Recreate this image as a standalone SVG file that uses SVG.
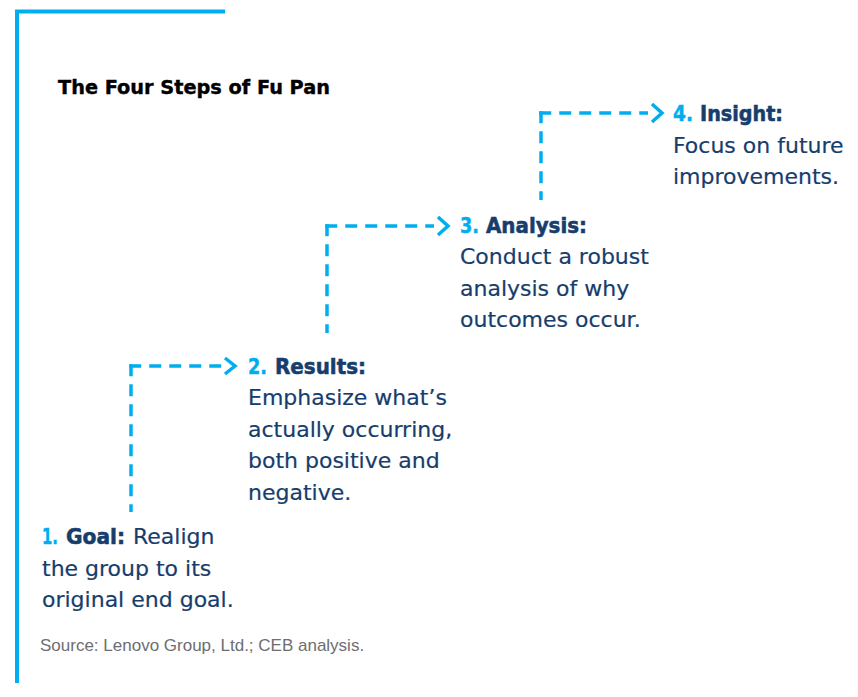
<svg xmlns="http://www.w3.org/2000/svg" width="858" height="697" viewBox="0 0 858 697">
<style>
.frame{fill:none;stroke:#00AEEF;stroke-width:4}
.dash{fill:none;stroke:#00AEEF;stroke-width:3.5;stroke-dasharray:12 8}
.chev{fill:none;stroke:#00AEEF;stroke-width:3.5;stroke-linejoin:miter}
.title{font-family:"DejaVu Sans",sans-serif;font-weight:bold;font-size:20px;fill:#000;stroke:#000;stroke-width:0.4}
.hd{font-family:"DejaVu Sans",sans-serif;font-weight:bold;font-size:22px;fill:#173D6C;stroke:#173D6C;stroke-width:0.6}
.num{font-family:"DejaVu Sans",sans-serif;font-weight:bold;font-size:22px;fill:#00AEEF;stroke:#00AEEF;stroke-width:0.5}
.body{font-family:"DejaVu Sans",sans-serif;font-size:22px;fill:#173D6C;stroke:#173D6C;stroke-width:0.2}
.src{font-family:"Liberation Sans",Arial,sans-serif;font-size:17px;fill:#6d6d72}
</style>
<rect width="858" height="697" fill="#fff"/>
<g id="frame">
<path class="frame" d="M17,683 V11.5 H225"/>
</g>
<text class="title" x="58" y="94" textLength="272" lengthAdjust="spacingAndGlyphs">The Four Steps of Fu Pan</text>
<g id="connectors">
<path class="dash" d="M131,364.25 V512"/>
<path class="dash" d="M129.25,366 H222"/>
<polyline class="chev" points="225,358 235,366 225,374"/>
<path class="dash" d="M327,224.25 V333"/>
<path class="dash" d="M325.25,226 H434"/>
<polyline class="chev" points="438,217 448,226 438,235"/>
<path class="dash" d="M541,111.25 V200"/>
<path class="dash" d="M539.25,113 H648"/>
<polyline class="chev" points="652,104 662,113 652,122"/>
</g>
<g id="step1">
<text class="num" x="42" y="544" textLength="16" lengthAdjust="spacingAndGlyphs">1.</text>
<text class="hd" x="66" y="544" textLength="59" lengthAdjust="spacingAndGlyphs">Goal:</text>
<text class="body" x="133" y="544">Realign</text>
<text class="body" x="42" y="575.5">the group to its</text>
<text class="body" x="42" y="607">original end goal.</text>
</g>
<g id="step2">
<text class="num" x="248" y="374" textLength="19" lengthAdjust="spacingAndGlyphs">2.</text>
<text class="hd" x="275" y="374" textLength="91" lengthAdjust="spacingAndGlyphs">Results:</text>
<text class="body" x="248" y="405">Emphasize what’s</text>
<text class="body" x="248" y="436.5">actually occurring,</text>
<text class="body" x="248" y="468">both positive and</text>
<text class="body" x="248" y="499.5">negative.</text>
</g>
<g id="step3">
<text class="num" x="460" y="233" textLength="19" lengthAdjust="spacingAndGlyphs">3.</text>
<text class="hd" x="486" y="233" textLength="101" lengthAdjust="spacingAndGlyphs">Analysis:</text>
<text class="body" x="460" y="264">Conduct a robust</text>
<text class="body" x="460" y="296">analysis of why</text>
<text class="body" x="460" y="327">outcomes occur.</text>
</g>
<g id="step4">
<text class="num" x="673" y="121" textLength="20" lengthAdjust="spacingAndGlyphs">4.</text>
<text class="hd" x="700" y="121" textLength="83" lengthAdjust="spacingAndGlyphs">Insight:</text>
<text class="body" x="673" y="152.5">Focus on future</text>
<text class="body" x="673" y="184">improvements.</text>
</g>
<text class="src" x="40" y="651">Source: Lenovo Group, Ltd.; CEB analysis.</text>
</svg>
